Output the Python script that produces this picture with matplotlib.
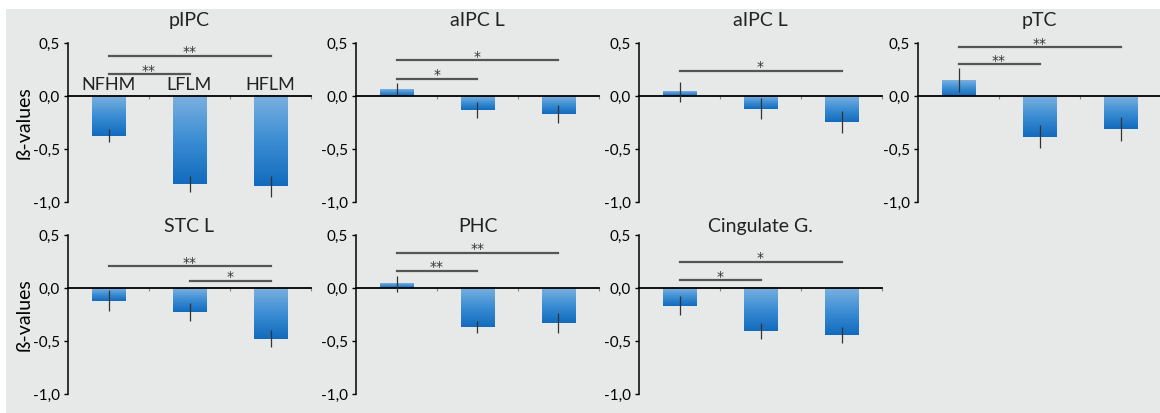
import numpy as np
import matplotlib
matplotlib.use('Agg')
from matplotlib import pyplot as plt
from matplotlib.patches import Rectangle
from matplotlib.colors import LinearSegmentedColormap

# data
conditions = ['NFHM', 'LFLM', 'HFLM']
regions = ['pIPC', 'aIPC L', 'aIPC L', 'pTC', 'STC L', 'PHC', 'Cingulate G.']
betas = [
    [-0.375, -0.83, -0.85],
    [0.066, -0.13, -0.167],
    [0.038, -0.12, -0.245],
    [0.15, -0.384, -0.31],
    [-0.12, -0.226, -0.477],
    [0.038, -0.368, -0.33],
    [-0.167, -0.406, -0.443],
]
errors = [
    [0.06, 0.08, 0.10],
    [0.06, 0.075, 0.083],
    [0.09, 0.10, 0.10],
    [0.115, 0.11, 0.115],
    [0.10, 0.085, 0.08],
    [0.078, 0.055, 0.09],
    [0.092, 0.075, 0.078],
]
# significance brackets: (from, to, height, stars)
brackets = [
    [(0, 1, 0.205, '**'), (0, 2, 0.377, '**')],
    [(0, 1, 0.16, '*'), (0, 2, 0.337, '*')],
    [(0, 2, 0.24, '*')],
    [(0, 1, 0.30, '**'), (0, 2, 0.46, '**')],
    [(0, 2, 0.205, '**'), (1, 2, 0.066, '*')],
    [(0, 1, 0.163, '**'), (0, 2, 0.333, '**')],
    [(0, 1, 0.073, '*'), (0, 2, 0.245, '*')],
]
yticks = [0.5, 0.0, -0.5, -1.0]
yticklabels = ['0,5', '0,0', '-0,5', '-1,0']

plt.rcParams['font.family'] = ['Lato', 'DejaVu Sans']
plt.rcParams['text.color'] = '#222222'

W, H = 1160, 413
fig = plt.figure(figsize=(W / 100, H / 100), dpi=100)
fig.patch.set_facecolor('white')
fig.patches.append(Rectangle((6 / W, 0), 1, (H - 9) / H, transform=fig.transFigure,
                             facecolor='#e7e8e8', edgecolor='none', zorder=-10))

grad = LinearSegmentedColormap.from_list('bars', ['#126bbd', '#3b8dd3', '#7ab0e0'])
gimg = np.linspace(0, 1, 100).reshape(-1, 1)

lefts = [68, 356, 639, 918]
rows = [(202, 43), (394, 235)]
title_pads = [12, 2]

for k, name in enumerate(regions):
    r, c = divmod(k, 4)
    ybot, ytop = rows[r]
    ax = fig.add_axes([lefts[c] / W, (H - ybot) / H, 243 / W, (ybot - ytop) / H])
    ax.patch.set_alpha(0)
    x = np.arange(len(conditions))
    bars = ax.bar(x, betas[k], width=0.41, color='none', edgecolor='none', zorder=2)
    for b in bars:
        y0, y1 = sorted([b.get_y(), b.get_y() + b.get_height()])
        ax.imshow(gimg, extent=[b.get_x(), b.get_x() + b.get_width(), y0, y1],
                  cmap=grad, aspect='auto', origin='lower', zorder=2)
    ax.errorbar(x, betas[k], yerr=errors[k], fmt='none', ecolor='#333333',
                elinewidth=0.9, capsize=0, zorder=3)
    for i, j, h, s in brackets[k]:
        ax.plot([x[i], x[j]], [h, h], color='#555555', lw=1.6, zorder=3)
        ax.text((x[i] + x[j]) / 2, h - 0.003, s, ha='center', va='baseline',
                fontsize=10, color='#333333', family='DejaVu Sans')
    if k == 0:
        for i, lab in enumerate(conditions):
            ax.text(x[i], 0.03, lab, ha='center', va='bottom', fontsize=13)
    if c == 0:
        ax.set_ylabel('ß-values', fontsize=14, labelpad=0)

    ax.set_xlim(-0.5, 2.5)
    ax.set_ylim(-1.0, 0.5)
    ax.set_yticks(yticks)
    ax.set_yticklabels(yticklabels, fontsize=11)
    ax.tick_params(axis='y', direction='out', length=3, width=1, pad=3)
    ax.spines['bottom'].set_position(('data', 0))
    ax.spines['top'].set_visible(False)
    ax.spines['right'].set_visible(False)
    ax.spines['left'].set_linewidth(1.1)
    ax.spines['bottom'].set_linewidth(1.3)
    ax.set_xticks([0.5, 1.5, 2.5])
    ax.set_xticklabels([])
    ax.tick_params(axis='x', direction='out', length=2, width=0.8, color='#888888')
    ax.set_title(name, fontsize=14, pad=title_pads[r])

fig.savefig('out.png', dpi=100)
